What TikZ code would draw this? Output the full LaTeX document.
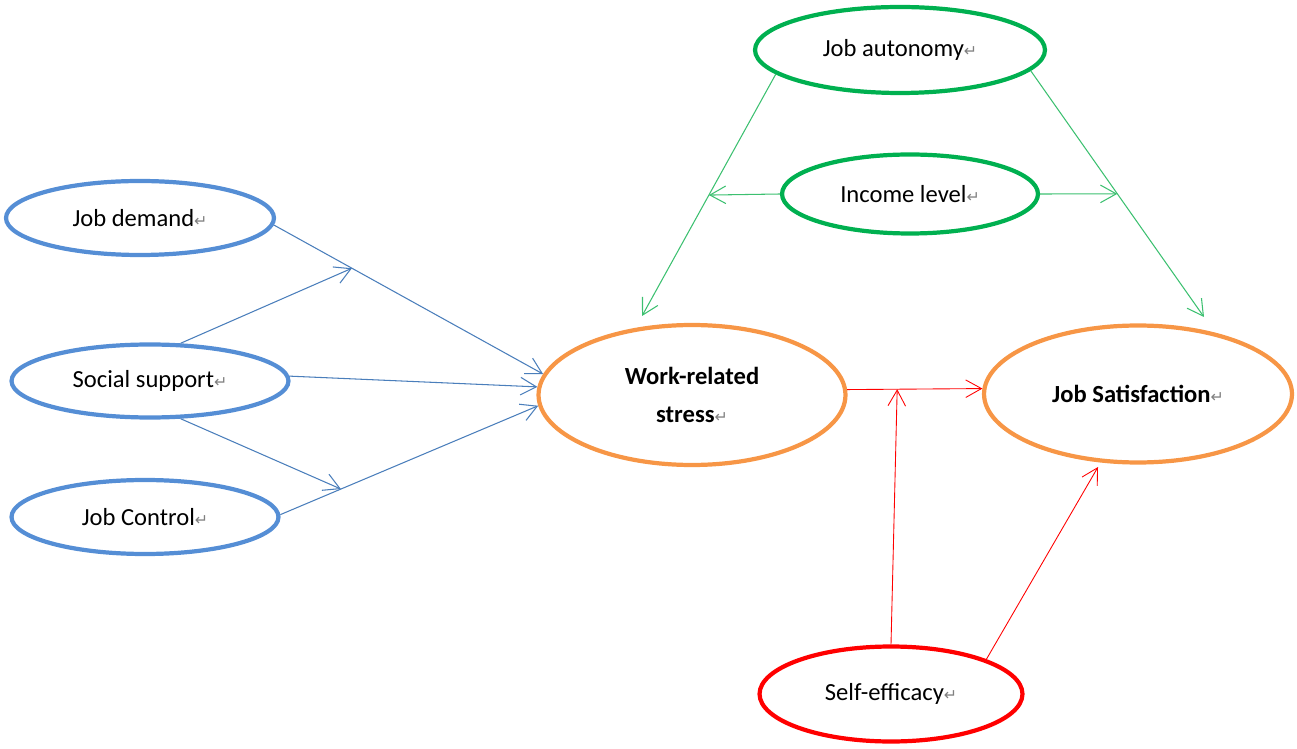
\documentclass[tikz,border=0pt]{standalone}
\usepackage{fontspec}
\setmainfont{Carlito}
\newfontfamily\dejavu{DejaVu Sans}
\usetikzlibrary{arrows.meta,shapes.geometric}

\definecolor{ovalblue}{HTML}{558ED5}
\definecolor{lineblue}{HTML}{4A7EBB}
\definecolor{ovalgreen}{HTML}{00B050}
\definecolor{linegreen}{HTML}{3CC070}
\definecolor{ovalorange}{HTML}{F79646}
\definecolor{ovalred}{HTML}{FF0000}

\newcommand{\retmark}{{\dejavu\fontsize{9}{9}\selectfont\textcolor{gray}{↵}}}

\begin{document}
\begin{tikzpicture}[x = 0.02cm, y = -0.02cm,
  every node/.style = {font = \fontsize{14}{22}\selectfont},
  oval/.style = {ellipse, draw, line width = 2.4pt, inner sep = 0pt},
  tip/.style = {-{Straight Barb[length = 9pt, width = 10pt]}},
  bluearrow/.style = {tip, draw = lineblue, line width = 0.6pt},
  greenarrow/.style = {tip, draw = linegreen, line width = 0.6pt},
  redarrow/.style = {tip, draw = ovalred, line width = 0.5pt}]

\useasboundingbox (0,0) rectangle (1297,749);

\node[oval, draw = ovalblue, minimum width = 5.36cm, minimum height = 1.48cm] (v1) at (140,218) {Job demand\retmark};
\node[oval, draw = ovalblue, minimum width = 5.54cm, minimum height = 1.46cm] (v2) at (150,381) {Social support\retmark};
\node[oval, draw = ovalblue, minimum width = 5.34cm, minimum height = 1.48cm] (v3) at (145,517) {Job Control\retmark};

\node[oval, draw = ovalorange, align = center, minimum width = 6.14cm, minimum height = 2.8cm] (v4) at (692,395) {\textbf{Work-related}\\\textbf{stress}\retmark};
\node[oval, draw = ovalorange, minimum width = 6.16cm, minimum height = 2.74cm] (v5) at (1138,394) {\textbf{Job Satisfaction}\retmark};

\node[oval, draw = ovalgreen, minimum width = 5.8cm, minimum height = 1.72cm] (v6) at (900,50) {Job autonomy\retmark};
\node[oval, draw = ovalgreen, minimum width = 5.12cm, minimum height = 1.58cm] (v7) at (910,194) {Income level\retmark};

\node[oval, draw = ovalred, minimum width = 5.26cm, minimum height = 1.9cm] (v8) at (891,694) {Self-efficacy\retmark};

\coordinate (a1) at (642,316);
\coordinate (a2) at (1204,317);
\coordinate (a3) at (1098,467);

% blue paths into stress
\draw[bluearrow] (v1.357) -- coordinate[pos = 0.29] (m1) (v4.172);
\draw[bluearrow] (v2.2) -- (v4.177);
\draw[bluearrow] (v3.1) -- coordinate[pos = 0.235] (m2) (v4.184);
\draw[bluearrow] (v2.51) -- (m1);
\draw[bluearrow] (v2.309) -- (m2);

% green paths
\draw[greenarrow] (v6.191) -- coordinate[pos = 0.5] (m3) (a1);
\draw[greenarrow] (v6.351) -- coordinate[pos = 0.5] (m4) (a2);
\draw[greenarrow] (v7.west) -- (m3);
\draw[greenarrow] (v7.east) -- (m4);

% red paths
\draw[redarrow] (v4.2) -- coordinate[pos = 0.37] (m5) (v5.178);
\draw[redarrow] (v8.north) -- (m5);
\draw[redarrow] (v8.20) -- (a3);
\end{tikzpicture}
\end{document}
